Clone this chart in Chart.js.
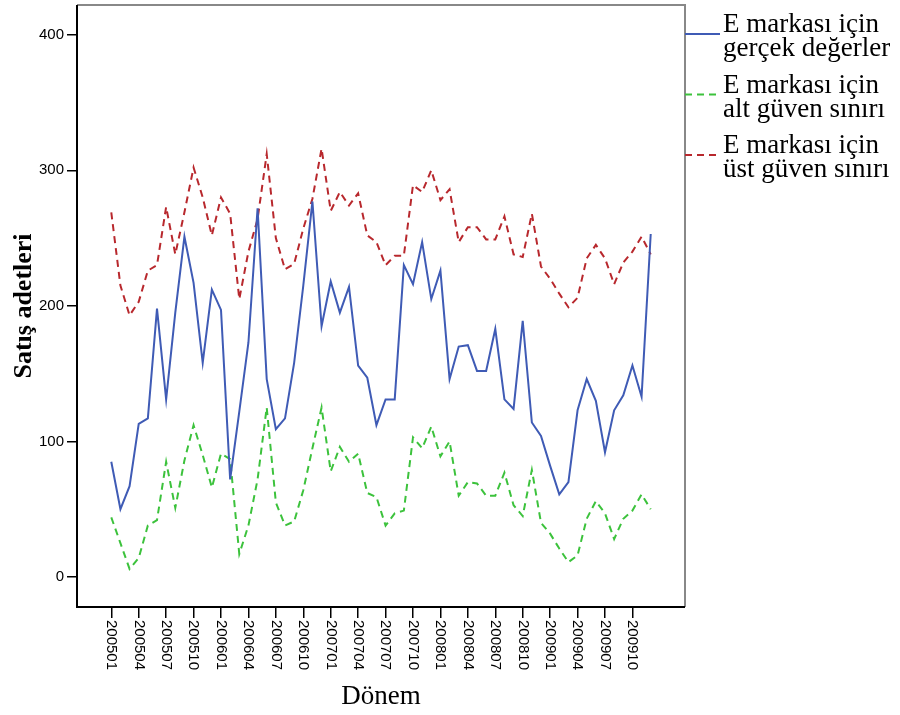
<!DOCTYPE html>
<html>
<head>
<meta charset="utf-8">
<script src="https://cdn.jsdelivr.net/npm/chart.js@4/dist/chart.umd.min.js"></script>
<style>
  body { margin: 0; background: #fff; }
  #wrap { width: 900px; height: 715px; }
</style>
</head>
<body>
<div id="wrap"><canvas id="salesChart" width="900" height="715"></canvas></div>
<script>
const periods = [
  "200501","200502","200503","200504","200505","200506","200507","200508","200509","200510","200511","200512",
  "200601","200602","200603","200604","200605","200606","200607","200608","200609","200610","200611","200612",
  "200701","200702","200703","200704","200705","200706","200707","200708","200709","200710","200711","200712",
  "200801","200802","200803","200804","200805","200806","200807","200808","200809","200810","200811","200812",
  "200901","200902","200903","200904","200905","200906","200907","200908","200909","200910","200911","200912"
];
const actual = [
  85, 50, 67, 113, 117, 198, 131, 195, 251, 217, 158, 212,
  197, 72, 122, 173, 272, 146, 109, 117, 158, 215, 277, 185,
  218, 195, 214, 156, 147, 112, 131, 131, 230, 216, 247, 205,
  226, 146, 170, 171, 152, 152, 183, 131, 124, 189, 114, 104,
  82, 61, 70, 123, 146, 130, 92, 123, 134, 156, 133, 253
];
const lowerBound = [
  44, 25, 6, 14, 38, 42, 85, 51, 86, 112, 90, 66,
  91, 87, 17, 38, 72, 125, 55, 38, 41, 64, 95, 125,
  78, 96, 85, 91, 62, 59, 38, 47, 49, 103, 95, 111,
  89, 100, 60, 70, 69, 60, 60, 77, 53, 45, 79, 40,
  32, 21, 11, 16, 43, 56, 47, 28, 43, 49, 61, 50
];
const upperBound = [
  269, 215, 193, 203, 226, 230, 273, 238, 269, 302, 280, 252,
  280, 268, 205, 240, 264, 312, 250, 227, 231, 257, 279, 316,
  270, 284, 274, 283, 252, 247, 230, 237, 237, 289, 284, 300,
  278, 286, 247, 258, 258, 249, 249, 266, 238, 236, 268, 229,
  220, 209, 199, 206, 235, 245, 235, 216, 232, 240, 251, 238
];
const yTicks = [0, 100, 200, 300, 400];
const xTickIndices = [0, 3, 6, 9, 12, 15, 18, 21, 24, 27, 30, 33, 36, 39, 42, 45, 48, 51, 54, 57];
const legendLines = [
  ["E markası için", "gerçek değerler"],
  ["E markası için", "alt güven sınırı"],
  ["E markası için", "üst güven sınırı"]
];

const toPoints = arr => arr.map((v, i) => ({ x: i, y: v }));

Chart.defaults.font.family = "'Liberation Sans', Arial, sans-serif";
Chart.defaults.color = "#000";

// plot frame: black left/bottom, grey top/right
const framePlugin = {
  id: "frame",
  afterDraw(chart) {
    const { ctx, chartArea: a } = chart;
    ctx.save();
    ctx.lineWidth = 2;
    ctx.strokeStyle = "#888";
    ctx.beginPath();
    ctx.moveTo(a.left, a.top);
    ctx.lineTo(a.right, a.top);
    ctx.lineTo(a.right, a.bottom);
    ctx.stroke();
    ctx.strokeStyle = "#000";
    ctx.beginPath();
    ctx.moveTo(a.left, a.top);
    ctx.lineTo(a.left, a.bottom);
    ctx.lineTo(a.right, a.bottom);
    ctx.stroke();
    ctx.restore();
  }
};

// x labels read top-to-bottom, so they are drawn here
const xLabelPlugin = {
  id: "xLabels",
  afterDraw(chart) {
    const { ctx, scales } = chart;
    const x = scales.x;
    ctx.save();
    ctx.font = "15px 'Liberation Sans', Arial, sans-serif";
    ctx.fillStyle = "#000";
    ctx.textAlign = "left";
    ctx.textBaseline = "middle";
    xTickIndices.forEach(i => {
      ctx.save();
      ctx.translate(x.getPixelForValue(i), x.top + 13);
      ctx.rotate(Math.PI / 2);
      ctx.fillText(periods[i], 0, 0);
      ctx.restore();
    });
    ctx.restore();
  }
};

// two-line legend entries on the right
const legendPlugin = {
  id: "sideLegend",
  afterDraw(chart) {
    const { ctx, chartArea: a } = chart;
    ctx.save();
    chart.data.datasets.forEach((ds, k) => {
      const y = 34 + k * 60.5;
      ctx.strokeStyle = ds.borderColor;
      ctx.lineWidth = 2;
      ctx.setLineDash(ds.borderDash || []);
      ctx.beginPath();
      ctx.moveTo(a.right, y);
      ctx.lineTo(a.right + 35, y);
      ctx.stroke();
      ctx.setLineDash([]);
      ctx.fillStyle = "#000";
      ctx.font = "27px 'Liberation Serif', 'Times New Roman', serif";
      ctx.textAlign = "left";
      ctx.textBaseline = "alphabetic";
      ctx.fillText(legendLines[k][0], a.right + 38, y - 2);
      ctx.fillText(legendLines[k][1], a.right + 38, y + 22);
    });
    ctx.restore();
  }
};

new Chart(document.getElementById("salesChart"), {
  type: "line",
  data: {
    datasets: [
      { label: legendLines[0].join(" "), data: toPoints(actual), borderColor: "#3f5bb5", borderWidth: 2, pointRadius: 0, tension: 0 },
      { label: legendLines[1].join(" "), data: toPoints(lowerBound), borderColor: "#3cc23c", borderWidth: 2, borderDash: [7, 5], pointRadius: 0, tension: 0 },
      { label: legendLines[2].join(" "), data: toPoints(upperBound), borderColor: "#b8282d", borderWidth: 2, borderDash: [7, 5], pointRadius: 0, tension: 0 }
    ]
  },
  options: {
    responsive: false,
    animation: false,
    layout: { padding: { top: 5, right: 215, left: 0, bottom: 0 } },
    plugins: { legend: { display: false }, tooltip: { enabled: false } },
    scales: {
      x: {
        type: "linear",
        min: -3.75,
        max: 62.75,
        afterBuildTicks: s => { s.ticks = xTickIndices.map(v => ({ value: v })); },
        afterFit: s => { s.height = 108; s.paddingLeft = 0; s.paddingRight = 0; },
        ticks: { display: false },
        grid: { drawOnChartArea: false, drawTicks: true, tickLength: 11, color: "#000", lineWidth: 1.5 },
        border: { display: false },
        title: { display: true, text: "Dönem", font: { family: "'Liberation Serif', 'Times New Roman', serif", size: 27 }, padding: { top: 0, bottom: 2 } }
      },
      y: {
        min: -22.1,
        max: 421.9,
        afterBuildTicks: s => { s.ticks = yTicks.map(v => ({ value: v })); },
        afterFit: s => { s.width = 77; s.paddingTop = 0; s.paddingBottom = 0; },
        ticks: { font: { size: 15 }, padding: 3 },
        grid: { drawOnChartArea: false, drawTicks: true, tickLength: 10, color: "#000", lineWidth: 1.5 },
        border: { display: false },
        title: { display: true, text: "Satış adetleri", font: { family: "'Liberation Serif', 'Times New Roman', serif", size: 26, weight: "bold" }, padding: { top: 9, bottom: 0 } }
      }
    }
  },
  plugins: [framePlugin, xLabelPlugin, legendPlugin]
});
</script>
</body>
</html>
